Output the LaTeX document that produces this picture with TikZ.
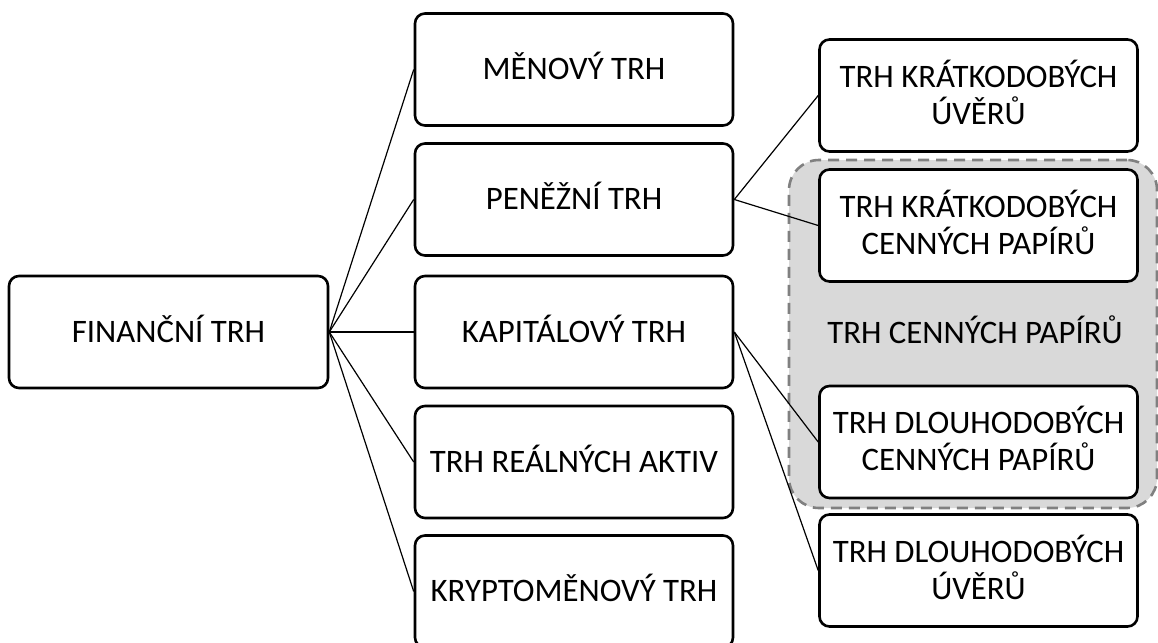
\documentclass[tikz,border=0pt]{standalone}
\usepackage{fontspec}
\setmainfont{Carlito}
\begin{document}
\begin{tikzpicture}[x=1pt,y=-1pt,
  box/.style={draw=black,line width=2.6pt,rounded corners=10pt,fill=white,
    minimum width=318pt,minimum height=112pt,inner sep=0pt,align=center,
    text depth=7pt,font=\fontsize{32.8}{37}\selectfont},
  conn/.style={draw=black,line width=1.2pt},
  group/.style={draw=black!50,fill=black!15,dash pattern=on 11pt off 7pt,
    line width=2.6pt,rounded corners=30pt,minimum width=368pt,minimum height=348pt,inner sep=0pt},
  lbl/.style={font=\fontsize{32.8}{37}\selectfont,inner sep=0pt,text depth=7pt}]
\useasboundingbox (0,0) rectangle (1158,642);
\node[group] (grp) at (973,334) {};
\node[lbl] (grplbl) at (975,333) {TRH CENNÝCH PAPÍRŮ};
\node[box,minimum width=319pt] (fin) at (168.5,332) {FINANČNÍ TRH};
\node[box] (men) at (574,69.5) {MĚNOVÝ TRH};
\node[box] (pen) at (574,199.5) {PENĚŽNÍ TRH};
\node[box] (kap) at (574,332) {KAPITÁLOVÝ TRH};
\node[box] (rea) at (574,462) {TRH REÁLNÝCH AKTIV};
\node[box] (kry) at (574,591.5) {KRYPTOMĚNOVÝ TRH};
\node[box] (kuv) at (978.5,95.5) {TRH KRÁTKODOBÝCH\\ÚVĚRŮ};
\node[box] (kcp) at (978.5,225.5) {TRH KRÁTKODOBÝCH\\CENNÝCH PAPÍRŮ};
\node[box] (dcp) at (978.5,442) {TRH DLOUHODOBÝCH\\CENNÝCH PAPÍRŮ};
\node[box] (duv) at (978.5,570.5) {TRH DLOUHODOBÝCH\\ÚVĚRŮ};
\foreach \t in {men,pen,kap,rea,kry}
  \draw[conn] (fin.east) -- (\t.west);
\draw[conn] (pen.east) -- (kuv.west);
\draw[conn] (pen.east) -- (kcp.west);
\draw[conn] (kap.east) -- (dcp.west);
\draw[conn] (kap.east) -- (duv.west);
\end{tikzpicture}
\end{document}
